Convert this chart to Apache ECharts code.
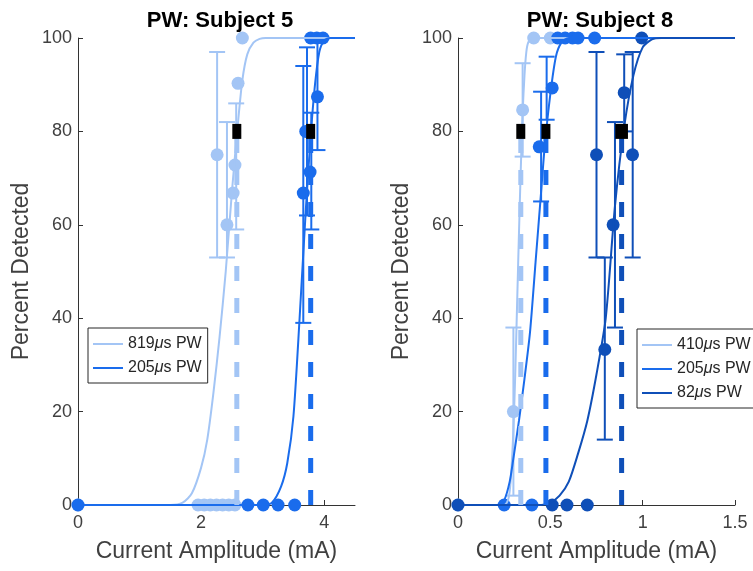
<!DOCTYPE html>
<html>
<head>
<meta charset="utf-8">
<script src="https://cdn.jsdelivr.net/npm/echarts@6/dist/echarts.min.js"></script>
<style>html,body{margin:0;padding:0;background:#fff}#c{width:753px;height:571px}</style>
</head>
<body>
<div id="c"></div>
<script>
// ---------- DATA ----------
const titles = ['PW: Subject 5', 'PW: Subject 8'];
const xTicksLeft = [0, 2, 4];
const xTicksRight = [0, 0.5, 1, 1.5];
const yTicks = [0, 20, 40, 60, 80, 100];

// Subject 5, 819 us
const s5a_name = '819μs PW';
const s5a_points = [[0,0],[1.95,0],[2.05,0],[2.15,0],[2.25,0],[2.35,0],[2.45,0],[2.55,0],[2.26,75],[2.42,60],[2.52,66.8],[2.55,72.8],[2.6,90.3],[2.67,100]];
const s5a_err = [[2.26,53,97],[2.42,53,82],[2.57,59,86]];
const s5a_fit = [[0,0],[1.5,0],[1.7,0.5],[1.85,2.5],[2.0,8],[2.1,14],[2.2,24],[2.3,36],[2.4,50],[2.5,67],[2.6,82],[2.67,91],[2.75,96.5],[2.85,99],[2.95,99.8],[3.05,100],[4.5,100]];
const s5a_thr = [[2.58,80,2.58,2.58]];
// Subject 5, 205 us
const s5b_name = '205μs PW';
const s5b_points = [[0,0],[2.76,0],[3.01,0],[3.25,0],[3.52,0],[3.66,66.8],[3.7,80],[3.77,71.3],[3.89,87.4],[3.78,100],[3.88,100],[3.98,100]];
const s5b_err = [[3.66,39,94],[3.72,62,98],[3.79,59,84],[3.89,76,99]];
const s5b_fit = [[0,0],[3.0,0],[3.15,0.5],[3.3,4],[3.4,9],[3.5,19],[3.6,40],[3.7,63],[3.78,79],[3.85,90],[3.92,97],[4.0,99.5],[4.1,100],[4.5,100]];
const s5b_thr = [[3.78,80,3.78,3.78]];

// Subject 8, 410 us
const s8a_name = '410μs PW';
const s8a_points = [[0,0],[0.30,20],[0.35,84.6],[0.41,100],[0.50,100]];
const s8a_err = [[0.30,2,38],[0.35,74.6,94.6]];
const s8a_fit = [[0,0],[0.25,0],[0.27,1],[0.28,3],[0.29,8],[0.30,16],[0.31,28],[0.32,43],[0.33,58],[0.34,72],[0.35,84],[0.36,92],[0.37,97],[0.38,99],[0.40,100],[1.5,100]];
const s8a_thr = [[0.34,80,0.34,0.34]];
// Subject 8, 205 us
const s8b_name = '205μs PW';
const s8b_points = [[0.25,0],[0.40,0],[0.44,76.7],[0.51,89.3],[0.54,100],[0.58,100],[0.62,100],[0.65,100],[0.74,100]];
const s8b_err = [[0.45,65,88.5],[0.48,82.5,96]];
const s8b_fit = [[0,0],[0.22,0],[0.25,1],[0.28,5],[0.30,10],[0.33,18],[0.36,27],[0.39,37],[0.42,52],[0.45,67],[0.47,77],[0.50,88],[0.53,96],[0.56,99],[0.60,100],[1.5,100]];
const s8b_thr = [[0.476,80,0.476,0.476]];
// Subject 8, 82 us
const s8c_name = '82μs PW';
const s8c_points = [[0,0],[0.51,0],[0.59,0],[0.70,0],[0.795,33.3],[0.84,60],[0.75,75],[0.945,75],[0.90,88.3],[0.995,100]];
const s8c_err = [[0.795,14,53],[0.85,38,82],[0.75,53,97],[0.946,53,97],[0.90,80,96.5]];
const s8c_fit = [[0,0],[0.45,0],[0.5,0.5],[0.55,2],[0.6,5],[0.65,11],[0.7,18],[0.75,28],[0.8,40],[0.85,64],[0.9,81],[0.95,92],[1.0,98],[1.05,99.7],[1.1,100],[1.5,100]];
const s8c_thr = [[0.886,80,0.876,0.896]];

// ---------- STYLE ----------
const C_LIGHT = '#a3c5f5';
const C_MED = '#1a6cec';
const C_DARK = '#0f4fb8';
const AX = '#333333';
const TXT = '#404040';
const FONT = 'Liberation Sans, Arial, sans-serif';

function errRender(color) {
  return function (params, api) {
    const x = api.value(0), lo = api.value(1), hi = api.value(2);
    const p1 = api.coord([x, lo]), p2 = api.coord([x, hi]);
    const w = 8;
    const style = { stroke: color, lineWidth: 2, fill: null };
    return { type: 'group', children: [
      { type: 'line', shape: { x1: p1[0], y1: p1[1], x2: p2[0], y2: p2[1] }, style },
      { type: 'line', shape: { x1: p1[0]-w, y1: p1[1], x2: p1[0]+w, y2: p1[1] }, style },
      { type: 'line', shape: { x1: p2[0]-w, y1: p2[1], x2: p2[0]+w, y2: p2[1] }, style }
    ]};
  };
}
function dashRender(color) {
  return function (params, api) {
    const x = api.value(0), y = api.value(1);
    const p0 = api.coord([x, 0]), p1 = api.coord([x, y]);
    return { type: 'line', shape: { x1: p0[0], y1: p0[1], x2: p1[0], y2: p1[1] },
      style: { stroke: color, lineWidth: 5, lineDash: [15, 17], fill: null } };
  };
}
function squareRender(params, api) {
  const y = api.value(1), lo = api.value(2), hi = api.value(3);
  const a = api.coord([lo, y]), b = api.coord([hi, y]);
  return { type: 'rect', shape: { x: a[0]-4.5, y: a[1]-7.5, width: (b[0]-a[0]) + 9, height: 15 },
    style: { fill: '#000' } };
}

function group(idx, name, color, pts, err, fit, thr) {
  return [
    { type: 'custom', name: name + ' err', xAxisIndex: idx, yAxisIndex: idx, renderItem: errRender(color),
      data: err, encode: { x: 0, y: [1, 2] }, clip: false, silent: true, z: 2 },
    { type: 'scatter', name: name + ' pts', xAxisIndex: idx, yAxisIndex: idx, data: pts,
      symbol: 'circle', symbolSize: 13, itemStyle: { color: color, opacity: 1 }, clip: false, z: 3 },
    { type: 'line', name: name, xAxisIndex: idx, yAxisIndex: idx, data: fit, showSymbol: false, symbol: 'none',
      smooth: 0.25, lineStyle: { color: color, width: 2 }, itemStyle: { color: color }, z: 4 },
    { type: 'custom', name: name + ' thr', xAxisIndex: idx, yAxisIndex: idx, renderItem: dashRender(color),
      data: thr, encode: { x: 0, y: 1 }, clip: false, silent: true, z: 5 }
  ];
}

function xAxis(idx, max, ticks) {
  return {
    type: 'value', gridIndex: idx, min: 0, max: max,
    name: 'Current Amplitude (mA)', nameLocation: 'middle', nameGap: 35,
    nameTextStyle: { color: TXT, fontSize: 23, fontFamily: FONT },
    axisLine: { show: true, onZero: false, lineStyle: { color: AX, width: 1 } },
    axisTick: { show: true, inside: true, length: 5, customValues: ticks, lineStyle: { color: AX } },
    axisLabel: { customValues: ticks, color: TXT, fontSize: 18, fontFamily: FONT, margin: 9 },
    splitLine: { show: false }
  };
}
function yAxis(idx) {
  return {
    type: 'value', gridIndex: idx, min: 0, max: 100, interval: 20,
    name: 'Percent Detected', nameLocation: 'middle', nameGap: 45,
    nameTextStyle: { color: TXT, fontSize: 23, fontFamily: FONT },
    axisLine: { show: true, onZero: false, lineStyle: { color: AX, width: 1 } },
    axisTick: { show: true, inside: true, length: 5, customValues: yTicks, lineStyle: { color: AX } },
    axisLabel: { customValues: yTicks, color: TXT, fontSize: 18, fontFamily: FONT, margin: 6 },
    splitLine: { show: false }
  };
}
function legend(left, top, names) {
  return {
    data: names.map(n => ({ name: n })), left: left, top: top, orient: 'vertical',
    icon: 'rect', itemWidth: 30, itemHeight: 2, itemGap: 6,
    padding: [7, 6, 6, 5], borderColor: '#262626', borderWidth: 1, borderRadius: 0,
    backgroundColor: '#fff', selectedMode: false,
    formatter: n => n.replace('μ', '{i|μ}'),
    textStyle: { color: '#262626', fontSize: 16, lineHeight: 18, fontFamily: FONT,
      rich: { i: { fontStyle: 'italic', fontSize: 16, lineHeight: 18, fontFamily: FONT, color: '#262626' } } }
  };
}

const option = {
  animation: false,
  backgroundColor: '#fff',
  title: [
    { text: titles[0], left: 215, top: 5, textAlign: 'center',
      textStyle: { fontSize: 22, fontWeight: 'bold', color: '#000', fontFamily: FONT } },
    { text: titles[1], left: 595, top: 5, textAlign: 'center',
      textStyle: { fontSize: 22, fontWeight: 'bold', color: '#000', fontFamily: FONT } }
  ],
  grid: [
    { left: 78, top: 38, width: 277, height: 467 },
    { left: 458, top: 38, width: 277, height: 467 }
  ],
  xAxis: [xAxis(0, 4.5, xTicksLeft), xAxis(1, 1.5, xTicksRight)],
  yAxis: [yAxis(0), yAxis(1)],
  legend: [
    legend(88, 328, [s5a_name, s5b_name]),
    legend(637, 329, [s8a_name + ' ', s8b_name + ' ', s8c_name])
  ],
  series: [
    ...group(0, s5a_name, C_LIGHT, s5a_points, s5a_err, s5a_fit, s5a_thr),
    ...group(0, s5b_name, C_MED, s5b_points, s5b_err, s5b_fit, s5b_thr),
    ...group(1, s8a_name + ' ', C_LIGHT, s8a_points, s8a_err, s8a_fit, s8a_thr),
    ...group(1, s8b_name + ' ', C_MED, s8b_points, s8b_err, s8b_fit, s8b_thr),
    ...group(1, s8c_name, C_DARK, s8c_points, s8c_err, s8c_fit, s8c_thr),
    { type: 'custom', name: 'thr5', xAxisIndex: 0, yAxisIndex: 0, renderItem: squareRender,
      data: s5a_thr.concat(s5b_thr), encode: { x: 0, y: 1 }, clip: false, silent: true, z: 10 },
    { type: 'custom', name: 'thr8', xAxisIndex: 1, yAxisIndex: 1, renderItem: squareRender,
      data: s8a_thr.concat(s8b_thr, s8c_thr), encode: { x: 0, y: 1 }, clip: false, silent: true, z: 10 }
  ]
};
const chart = echarts.init(document.getElementById('c'), null, { renderer: 'canvas' });
chart.setOption(option);
</script>
</body>
</html>
